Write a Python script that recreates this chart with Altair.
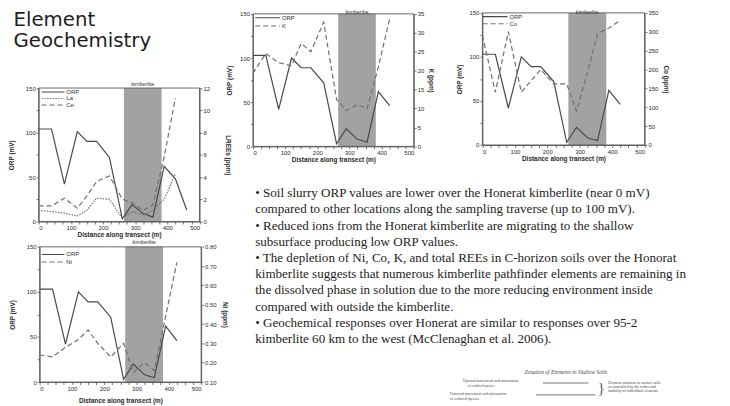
import altair as alt
import pandas as pd

W, H = 722, 398

# ---------------- data ----------------
dist = [0, 40, 80, 120, 150, 180, 220, 260, 290, 325, 355, 390, 425]
orp = [103, 103, 42, 100, 89, 89, 72, 3, 20, 8, 5, 62, 46]
dist_ree = [0, 40, 80, 120, 150, 180, 220, 260, 290, 325, 355, 390, 425, 460]
orp_ree = [104, 104, 42, 101, 90, 90, 72, 3, 19, 9, 5, 62, 48, 13]
la_ppm = [1.0, 0.9, 0.75, 0.5, 1.0, 2.1, 2.0, 0.3, 0.9, 0.6, 1.0, 2.0, 4.3]
ce_ppm = [1.4, 1.4, 2.1, 1.2, 2.3, 3.6, 4.1, 2.0, 1.7, 1.0, 1.5, 5.8, 11.1]
k_ppm = [19.3, 24.5, 22.1, 21.3, 27.2, 25.0, 32.8, 12.4, 9.5, 11.0, 10.0, 21.0, 33.7]
co_ppm = [290, 140, 300, 140, 170, 200, 162, 162, 90, 195, 295, 310, 330]
ni_ppm = [0.24, 0.23, 0.28, 0.32, 0.37, 0.30, 0.23, 0.30, 0.15, 0.20, 0.16, 0.44, 0.72]
kimberlite = [265, 382]
orp_domain = [0, 150]
dist_domain = [0, 500]

title_lines = ["Element", "Geochemistry"]
bullet_lines = [
    "\u2022  Soil slurry ORP values are lower over the Honerat kimberlite (near 0 mV)",
    "compared to other locations along the sampling traverse (up to 100 mV).",
    "\u2022  Reduced ions from the Honerat kimberlite are migrating to the shallow",
    "subsurface producing low ORP values.",
    "\u2022  The depletion of Ni, Co, K, and total REEs in C-horizon soils over the Honorat",
    "kimberlite suggests that numerous kimberlite pathfinder elements are remaining in",
    "the dissolved phase in solution due to the more reducing environment inside",
    "compared with outside the kimberlite.",
    "\u2022  Geochemical responses over Honerat are similar to responses over 95-2",
    "kimberlite 60 km to the west (McClenaghan et al. 2006).",
]

SOLID = "#484848"
DASHC = "#707070"
FONT = "Liberation Sans"

panels = [
    dict(x0=31, x1=193.7, yb=213.7, yt=78.7, ox=dist_ree, oy=orp_ree, kdy=-1.5, kb="bottom",
         right=[("La", la_ppm, [1.5, 1.3]), ("Ce", ce_ppm, [5, 3])],
         rdom=[0, 12], rvals=[0, 2, 4, 6, 8, 10, 12], rfmt="d", rtitle="LREEs (ppm)",
         ltp=11, rtp=15, xtp=1, leg=(34, 57, 82.7, 6.6)),
    dict(x0=32, x1=195.3, yb=376, yt=239.3, ox=dist, oy=orp, kdy=-1.5, kb="bottom",
         right=[("Ni", ni_ppm, [5, 3])],
         rdom=[0.1, 0.8], rvals=[0.1, 0.2, 0.3, 0.4, 0.5, 0.6, 0.7, 0.8], rfmt=".2f", rtitle="Ni (ppm)",
         ltp=11, rtp=5, xtp=6, leg=(34, 57, 247, 7.6)),
    dict(x0=247.7, x1=410.3, yb=137.7, yt=3.7, ox=dist, oy=orp, kdy=-3.5, kb="top",
         right=[("K", k_ppm, [5, 3])],
         rdom=[0, 35], rvals=[0, 5, 10, 15, 20, 25, 30, 35], rfmt="d", rtitle="K (ppm)",
         ltp=7, rtp=4, xtp=1, leg=(250, 275, 7.7, 8.3)),
    dict(x0=479.7, x1=643.7, yb=136.3, yt=2.7, ox=dist, oy=orp, kdy=-2.5, kb="top",
         right=[("Co", co_ppm, [5, 3])],
         rdom=[0, 350], rvals=[0, 50, 100, 150, 200, 250, 300, 350], rfmt="d", rtitle="Co (ppm)",
         ltp=7, rtp=5, xtp=1, leg=(480, 505, 6.5, 7.2)),
]

AX = dict(domainColor="#555", tickColor="#555", labelColor="#2a2a2a", titleColor="#2a2a2a",
          labelFont=FONT, titleFont=FONT, labelFontSize=6, titleFontSize=6.5,
          titleFontWeight="bold", tickSize=2.5, labelPadding=1, grid=False,
          domainWidth=0.9, tickWidth=0.8)

layers = []
for p in panels:
    xs = alt.Scale(domain=dist_domain, range=[p["x0"], p["x1"]], nice=False, zero=False)
    yl = alt.Scale(domain=orp_domain, range=[p["yb"], p["yt"]], nice=False)
    yr = alt.Scale(domain=p["rdom"], range=[p["yb"], p["yt"]], nice=False, zero=False)

    box = pd.DataFrame({"a": [kimberlite[0]], "b": [kimberlite[1]],
                        "f0": [dist_domain[0]], "f1": [dist_domain[1]],
                        "lo": [orp_domain[0]], "hi": [orp_domain[1]], "lab": ["kimberlite"]})
    layers.append(alt.Chart(box).mark_rect(color="#a2a2a2").encode(
        x=alt.X("a:Q", scale=xs, axis=None), x2="b:Q",
        y=alt.Y("lo:Q", scale=yl, axis=None), y2="hi:Q"))
    layers.append(alt.Chart(box).mark_rect(filled=False, stroke="#555", strokeWidth=0.9).encode(
        x=alt.X("f0:Q", scale=xs, axis=None), x2="f1:Q",
        y=alt.Y("lo:Q", scale=yl, axis=None), y2="hi:Q"))
    layers.append(alt.Chart(box).transform_calculate(mid="(datum.a + datum.b) / 2").mark_text(
        fontSize=5.5, font=FONT, color="#333", dy=p["kdy"], baseline=p["kb"]).encode(
        x=alt.X("mid:Q", scale=xs, axis=None),
        y=alt.Y("hi:Q", scale=yl, axis=None), text="lab:N"))

    xaxis = alt.Axis(orient="bottom", offset=p["yb"] - H, values=list(range(0, 501, 25)),
                     labelExpr="datum.value % 100 == 0 ? datum.label : ''",
                     title="Distance along transect (m)", titlePadding=p["xtp"], **AX)
    laxis = alt.Axis(orient="left", offset=-p["x0"], values=[0, 25, 50, 75, 100, 125, 150],
                     labelExpr="datum.value % 50 == 0 ? datum.label : ''",
                     title="ORP (mV)", titlePadding=p["ltp"], **AX)
    raxis = alt.Axis(orient="right", offset=p["x1"] - W, values=p["rvals"], format=p["rfmt"],
                     title=p["rtitle"], titlePadding=p["rtp"], **AX)

    odf = pd.DataFrame({"d": p["ox"], "v": p["oy"]})
    layers.append(alt.Chart(odf).mark_line(color=SOLID, strokeWidth=1.2).encode(
        x=alt.X("d:Q", scale=xs, axis=xaxis), y=alt.Y("v:Q", scale=yl, axis=laxis)))
    for i, (nm, vals, dash) in enumerate(p["right"]):
        edf = pd.DataFrame({"d": dist, "v": vals})
        layers.append(alt.Chart(edf).mark_line(color=DASHC, strokeWidth=1.2, strokeDash=dash).encode(
            x=alt.X("d:Q", scale=xs, axis=None),
            y=alt.Y("v:Q", scale=yr, axis=raxis if i == 0 else None)))

    # legend
    lx0, lx1, ly0, lstep = p["leg"]
    entries = [("ORP", SOLID, [1, 0])] + [(nm, DASHC, dash) for nm, _, dash in p["right"]]
    for j, (nm, col, dash) in enumerate(entries):
        ldf = pd.DataFrame({"s": [nm]})
        layers.append(alt.Chart(ldf).mark_rule(color=col, strokeWidth=1.1, strokeDash=dash).encode(
            x=alt.value(lx0), x2=alt.value(lx1), y=alt.value(ly0 + j * lstep)))
        layers.append(alt.Chart(ldf).mark_text(align="left", baseline="middle", fontSize=6,
                                               font=FONT, color="#333").encode(
            x=alt.value(lx1 + 2), y=alt.value(ly0 + j * lstep), text="s:N"))

one = pd.DataFrame({"k": [0]})

# slide title
for t, y in zip(title_lines, [16, 37.5]):
    layers.append(alt.Chart(pd.DataFrame({"t": [t]})).mark_text(
        align="left", baseline="alphabetic", fontSize=20, font="DejaVu Sans",
        color="#1e1e1e").encode(x=alt.value(5.5), y=alt.value(y), text="t:N"))

# bullet text
layers.append(alt.Chart(one).mark_text(
    text=bullet_lines, align="left", baseline="alphabetic", fontSize=13.2,
    font="Liberation Serif", lineHeight=16.4, color="#1c1c1c").encode(
    x=alt.value(250), y=alt.value(189)))

# small zonation diagram (bottom right)
small = [
    ("Zonation of Elements in Shallow Soils", 564, 366, 5.5, "center", "italic"),
    ("Upward movement and attenuation", 460, 375, 4, "left", "normal"),
    ("of oxidized species", 465, 380, 3.5, "left", "normal"),
    ("Outward movement and attenuation", 447, 388.5, 4, "left", "normal"),
    ("of reduced species", 447, 393.5, 4, "left", "normal"),
    ("Element zonation in surface soils", 607, 377, 4, "left", "normal"),
    ("as controlled by the redox and", 607, 381, 4, "left", "normal"),
    ("mobility of individual elements", 607, 385, 4, "left", "normal"),
]
for t, x, y, fs, al, st in small:
    layers.append(alt.Chart(pd.DataFrame({"t": [t]})).mark_text(
        align=al, baseline="middle", fontSize=fs, font="Liberation Serif",
        fontStyle=st, color="#444").encode(x=alt.value(x), y=alt.value(y), text="t:N"))
for x0, x1, y in [(541, 587, 377), (534, 594, 389)]:
    layers.append(alt.Chart(one).mark_rule(color="#555", strokeWidth=0.8).encode(
        x=alt.value(x0), x2=alt.value(x1), y=alt.value(y)))
layers.append(alt.Chart(pd.DataFrame({"t": ["}"]})).mark_text(
    fontSize=15, font="Liberation Serif", color="#555", baseline="middle").encode(
    x=alt.value(600), y=alt.value(382), text="t:N"))

chart = alt.layer(*layers).resolve_scale(x="independent", y="independent").properties(
    width=W, height=H, padding=0, autosize=alt.AutoSizeParams(type="none"),
    background="white").configure_view(strokeWidth=0)

chart.save("out.html", embed_options={"renderer": "svg", "actions": False})
